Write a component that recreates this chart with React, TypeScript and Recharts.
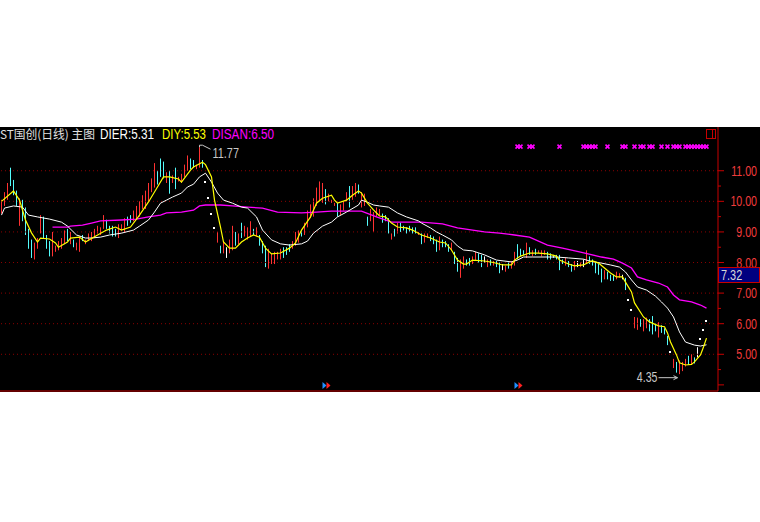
import React from 'react';
import { ComposedChart, Bar, Line, XAxis, YAxis, ReferenceLine, ReferenceDot } from 'recharts';

// daily candles (high / low / colour)
const HIGH = [
  10.05, 10.3, 10.6, 11.1, 10.7, 10.35, 10.1, 10.05, 9.8, 9.1,
  8.75, 8.65, 8.8, 9.55, 9.5, 8.9, 8.7, 9.0, 8.55, 8.7,
  8.8, 9.05, 9.1, 9.0, 8.75, 8.65, 8.85, 8.9, 8.75, 8.95,
  9.0, 9.1, 9.2, 9.15, 9.55, 9.4, 9.2, 9.2, 9.1, 9.25,
  9.25, 9.45, 9.5, 9.55, 9.7, 9.85, 10.0, 10.2, 10.35, 10.6,
  10.75, 11.25, 11.0, 11.4, 11.3, 10.95, 11.0, 10.85, 11.1, 10.8,
  10.9, 11.2, 11.5, 11.4, 11.35, 11.2, 11.77, 11.35, 10.63, 10.1,
  9.6, 9.12, 9.0, 8.55, 8.7, 8.5, 8.75, 9.2, 9.0, 8.95,
  9.3, 9.2, 9.15, 9.35, 9.1, 9.15, 8.9, 8.7, 8.55, 8.45,
  8.3, 8.35, 8.35, 8.45, 8.5, 8.5, 8.6, 8.7, 9.0, 9.05,
  9.05, 9.3, 9.7, 9.9, 10.1, 10.45, 10.65, 10.6, 10.4, 10.25,
  10.05, 9.95, 9.95, 9.9, 10.0, 10.3, 10.5, 10.5, 10.6, 10.55,
  10.3, 10.25, 9.5, 9.75, 9.65, 9.8, 9.75, 9.6, 9.55, 9.45,
  8.95, 9.1, 9.3, 9.3, 9.2, 9.15, 9.2, 9.15, 9.15, 9.0,
  8.95, 8.95, 8.95, 8.9, 8.85, 8.75, 8.85, 8.75, 8.7, 8.6,
  8.65, 8.35, 8.15, 8.1, 8.2, 8.1, 8.15, 8.2, 8.35, 8.3,
  8.25, 8.2, 8.1, 8.1, 8.05, 8.05, 8.0, 7.95, 7.9, 8.0,
  8.05, 8.35, 8.6, 8.45, 8.4, 8.65, 8.5, 8.4, 8.45, 8.4,
  8.4, 8.4, 8.35, 8.3, 8.25, 8.25, 8.25, 8.1, 8.15, 8.05,
  7.95, 8.05, 8.05, 8.0, 8.1, 8.4, 8.2, 8.1, 8.0, 7.95,
  7.8, 7.75, 7.7, 7.6, 7.6, 7.7, 7.65, 7.6, 7.5, 6.78,
  6.45, 6.22, 6.2, 6.15, 6.15, 6.2, 6.15, 6.25, 6.0, 6.05,
  5.95, 5.85, 5.6, 5.08, 4.85, 4.75, 4.8, 4.75, 4.85, 4.95,
  5.0, 4.9, 5.23, 5.5, 5.79, 6.08,
];

const LOW = [
  9.6, 9.85, 10.05, 10.5, 10.2, 9.85, 9.2, 9.35, 8.9, 8.45,
  8.15, 8.1, 8.45, 8.95, 8.8, 8.45, 8.2, 8.2, 8.35, 8.4,
  8.45, 8.6, 8.7, 8.6, 8.5, 8.4, 8.35, 8.7, 8.6, 8.7,
  8.7, 8.8, 8.95, 8.9, 9.1, 9.1, 8.95, 8.85, 8.85, 8.8,
  9.05, 9.0, 9.2, 9.3, 9.35, 9.4, 9.5, 9.75, 9.75, 10.0,
  10.3, 10.45, 10.55, 10.8, 10.75, 10.6, 10.25, 10.6, 10.4, 10.65,
  10.6, 10.8, 11.0, 11.05, 11.1, 11.05, 11.1, 11.1, 10.63, 10.1,
  9.6, 9.12, 8.65, 8.3, 8.3, 8.15, 8.3, 8.4, 8.55, 8.6,
  8.8, 8.85, 8.75, 8.85, 8.9, 8.85, 8.55, 8.3, 7.85, 7.8,
  7.95, 7.95, 8.1, 8.1, 8.15, 8.25, 8.35, 8.45, 8.55, 8.65,
  8.85, 8.9, 9.15, 9.45, 9.5, 9.85, 10.0, 9.95, 9.9, 10.0,
  9.95, 9.85, 9.5, 9.55, 9.7, 10.0, 9.8, 10.05, 10.15, 10.25,
  9.8, 9.85, 9.2, 9.35, 9.0, 9.5, 9.55, 9.3, 9.35, 8.95,
  8.75, 8.85, 8.95, 9.0, 9.05, 8.95, 9.0, 8.95, 8.95, 8.9,
  8.6, 8.65, 8.8, 8.7, 8.6, 8.35, 8.4, 8.5, 8.5, 8.35,
  8.4, 7.95, 7.7, 7.5, 7.8, 7.9, 7.9, 7.95, 8.05, 8.0,
  7.85, 8.0, 7.85, 7.9, 7.9, 7.85, 7.65, 7.75, 7.7, 7.8,
  7.8, 7.9, 8.1, 8.2, 8.25, 8.15, 8.25, 8.2, 8.25, 8.3,
  8.2, 8.25, 8.1, 8.1, 8.15, 8.1, 7.75, 7.95, 7.9, 7.85,
  7.7, 7.75, 7.85, 7.85, 7.85, 7.95, 7.95, 7.9, 7.65, 7.6,
  7.35, 7.45, 7.45, 7.4, 7.4, 7.45, 7.5, 7.45, 7.1, 6.78,
  6.45, 5.85, 5.8, 5.9, 5.75, 5.85, 5.75, 5.65, 5.75, 5.55,
  5.7, 5.65, 5.3, 5.08, 4.55, 4.4, 4.35, 4.45, 4.6, 4.65,
  4.65, 4.7, 4.9, 5.5, 5.79, 6.08,
];

// r = up, c = down, w = flat
const DIR =
  'rrrcccrccc' + 'crrrcccrrr' + 'rrcrcrrcrr' + 'rrrrrccccr' +
  'rrccrrrrrr' + 'rrcccrcrcr' + 'rrrccrrcww' + 'wwrcrwrrcr' +
  'crrrcrcccr' + 'rrrrcccrrr' + 'crrrrrrrcr' + 'rrcrrrcrrc' +
  'rrcrrrrccc' + 'rcrccccccr' + 'crrcccrccc' + 'rccrrccrrc' +
  'cwrcrccwrc' + 'rrcccrcrcr' + 'rrccccccrc' + 'crwrwrcccc' +
  'crcccrrwcw' + 'wrrcrrcccr' + 'cccwrcrrrc' + 'rcwwww';

// indicator lines: [day index, value]
const DIY_PTS: [number, number][] = [
  [0, 10.0], [4, 10.34], [6, 10.04], [8, 9.39], [10, 8.97], [12, 8.67], [13, 8.8], [16, 8.77],
  [18, 8.64], [19, 8.5], [22, 8.67], [23, 8.8], [26, 8.83], [28, 8.67], [31, 8.84], [35, 9.06],
  [38, 9.16], [40, 9.06], [43, 9.16], [46, 9.55], [49, 9.98], [52, 10.47], [54, 10.8], [56, 10.8],
  [59, 10.73], [60, 10.63], [63, 11.02], [64, 11.12], [67, 11.28], [68, 11.2], [70, 10.8], [71, 10.04],
  [73, 9.16], [74, 8.67], [76, 8.47], [78, 8.47], [80, 8.67], [82, 8.8], [84, 8.9], [86, 8.83],
  [88, 8.47], [90, 8.28], [93, 8.31], [96, 8.47], [98, 8.64], [100, 9.06], [103, 9.49], [105, 9.94],
  [107, 10.1], [110, 10.2], [111, 10.04], [112, 9.94], [115, 10.04], [117, 10.2], [119, 10.34], [120, 10.27],
  [122, 9.94], [124, 9.72], [126, 9.52], [128, 9.49], [130, 9.29], [132, 9.16], [135, 9.13], [137, 9.06],
  [140, 8.9], [143, 8.8], [146, 8.67], [148, 8.64], [150, 8.41], [152, 8.08], [154, 7.95], [155, 7.95],
  [157, 8.08], [161, 8.05], [164, 8.0], [167, 7.92], [170, 7.92], [171, 8.08], [173, 8.21], [176, 8.31],
  [179, 8.31], [182, 8.28], [185, 8.21], [186, 8.08], [189, 7.95], [191, 7.89], [194, 7.92], [196, 8.02],
  [197, 8.05], [199, 7.98], [201, 7.82], [203, 7.66], [205, 7.53], [207, 7.53], [208, 7.36], [210, 7.04],
  [211, 6.68], [214, 6.22], [216, 6.06], [219, 5.93], [221, 5.9], [222, 5.7], [223, 5.4], [225, 4.98],
  [226, 4.72], [228, 4.65], [230, 4.67], [231, 4.75], [233, 4.98], [234, 5.24], [235, 5.53],
];

const DIER_PTS: [number, number][] = [
  [0, 9.55], [1, 9.78], [4, 9.85], [7, 9.81], [9, 9.55], [12, 9.49], [16, 9.42], [20, 9.32],
  [22, 9.19], [25, 8.9], [28, 8.8], [30, 8.8], [33, 8.83], [36, 8.9], [40, 8.96], [44, 9.06],
  [46, 9.19], [49, 9.39], [51, 9.65], [53, 9.94], [55, 10.04], [57, 10.14], [60, 10.27], [62, 10.47],
  [64, 10.56], [66, 10.8], [68, 10.92], [70, 10.63], [72, 10.27], [74, 10.04], [77, 9.94], [80, 9.81],
  [82, 9.78], [85, 9.49], [87, 9.06], [90, 8.74], [93, 8.61], [96, 8.57], [100, 8.61], [102, 8.7],
  [104, 8.96], [107, 9.19], [110, 9.32], [112, 9.49], [115, 9.65], [119, 9.88], [120, 10.04], [122, 9.97],
  [124, 9.88], [126, 9.85], [129, 9.81], [132, 9.62], [135, 9.49], [139, 9.36], [140, 9.29], [143, 9.13],
  [145, 9.0], [147, 8.9], [150, 8.74], [152, 8.54], [154, 8.41], [157, 8.38], [161, 8.25], [165, 8.08],
  [170, 8.02], [172, 8.08], [174, 8.18], [177, 8.18], [185, 8.18], [189, 8.15], [194, 8.11], [196, 8.05],
  [200, 7.98], [203, 7.92], [206, 7.85], [208, 7.69], [210, 7.43], [212, 7.2], [215, 7.1], [218, 6.9],
  [220, 6.71], [222, 6.51], [224, 6.22], [226, 5.73], [228, 5.4], [231, 5.3], [233, 5.27], [235, 5.31],
];

const DISAN_PTS: [number, number][] = [
  [17, 9.16], [22, 9.16], [23, 9.19], [27, 9.22], [30, 9.29], [33, 9.36], [40, 9.39], [45, 9.42],
  [49, 9.49], [53, 9.55], [55, 9.62], [60, 9.65], [64, 9.71], [66, 9.85], [68, 9.88], [73, 9.88],
  [77, 9.85], [82, 9.81], [87, 9.78], [92, 9.65], [100, 9.62], [105, 9.65], [110, 9.68], [120, 9.68],
  [125, 9.49], [130, 9.32], [140, 9.32], [147, 9.26], [152, 9.13], [161, 9.0], [166, 8.96], [171, 8.9],
  [176, 8.83], [182, 8.57], [187, 8.47], [193, 8.34], [200, 8.18], [204, 8.11], [207, 7.98], [210, 7.82],
  [212, 7.53], [215, 7.43], [219, 7.33], [222, 7.2], [224, 6.94], [226, 6.78], [230, 6.71], [233, 6.61],
  [235, 6.51],
];

const SIGNALS = [
  172, 173, 176, 177, 186, 194, 195, 196, 197, 198, 202, 207, 208, 211, 213, 214,
  216, 217, 220, 222, 224, 225, 226, 228, 229, 230, 231, 232, 233, 234, 235,
];
const ARROW_DAYS = [107, 171];

const GRID = [5, 6, 7, 8, 9, 10, 11];
const TICKS = [4, 4.5, 5, 5.5, 6, 6.5, 7, 7.5, 8, 8.5, 9, 9.5, 10, 10.5, 11];

const RED = '#ff3232';
const CYAN = '#54fcfc';
const AXIS_RED = '#c80000';
const GRID_RED = '#8c0000';
const LABEL_GRAY = '#c8c8c8';
const COLORS: Record<string, string> = { r: RED, c: CYAN, w: '#ffffff' };
const FONT = 'Arial, "Liberation Sans", sans-serif';
const SIG_LEVEL = 11.79;
const ARROW_LEVEL = 3.98;

const diyMap = new Map(DIY_PTS);
const dierMap = new Map(DIER_PTS);
const disanMap = new Map(DISAN_PTS);

const rows = HIGH.map((h, i) => ({
  i,
  range: [LOW[i], h],
  dir: DIR[i],
  diy: diyMap.get(i) ?? null,
  dier: dierMap.get(i) ?? null,
  disan: disanMap.get(i) ?? null,
}));

const maxIdx = HIGH.indexOf(Math.max(...HIGH));
const minIdx = LOW.indexOf(Math.min(...LOW));

const Candle = (props: any) => {
  const { x, y, width, height, payload } = props;
  if (x == null || y == null) return <g />;
  const cx = Math.round(x + width / 2);
  const top = Math.min(y, y + height);
  const h = Math.abs(height);
  const col = COLORS[payload.dir] || '#fff';
  if (payload.range[0] === payload.range[1]) {
    return <rect x={cx - 1} y={Math.round(top) - 1} width={2} height={2} fill="#ffffff" />;
  }
  return <rect x={cx} y={top} width={1} height={Math.max(h, 1)} fill={col} />;
};

const AxisTick = (props: any) => {
  const { x, y, payload } = props;
  const v = payload.value;
  const major = Number.isInteger(v);
  return (
    <g>
      <line x1={x} x2={x + (major ? 6 : 3)} y1={y} y2={y} stroke={AXIS_RED} />
      {major && v >= 5 && (
        <text
          transform={`translate(${x + 39},${y + 5}) scale(0.76,1)`}
          textAnchor="end"
          fill="#f03c3c"
          fontSize={14}
          fontFamily={FONT}
        >
          {v.toFixed(2)}
        </text>
      )}
    </g>
  );
};

const XMark = ({ cx, cy }: any) => (
  <g stroke="#ff00ff" strokeWidth={1.6}>
    <line x1={cx - 2} y1={cy - 2} x2={cx + 2} y2={cy + 2} />
    <line x1={cx - 2} y1={cy + 2} x2={cx + 2} y2={cy - 2} />
  </g>
);

const TriMark = ({ cx, cy }: any) => (
  <g>
    <polygon points={`${cx},${cy - 3.5} ${cx + 4},${cy} ${cx},${cy + 3.5}`} fill="#1e90ff" />
    <polygon points={`${cx + 4},${cy - 3.5} ${cx + 8},${cy} ${cx + 4},${cy + 3.5}`} fill="#ff2020" />
  </g>
);

const MaxLabel = ({ cx, cy }: any) => (
  <g>
    <polyline
      points={`${cx},${cy} ${cx},${cy - 2} ${cx + 3},${cy - 2} ${cx + 11},${cy + 2}`}
      fill="none"
      stroke={LABEL_GRAY}
    />
    <text transform={`translate(${cx + 13},${cy + 11}) scale(0.78,1)`} fill={LABEL_GRAY}
      fontSize={14} fontFamily={FONT}>
      {HIGH[maxIdx].toFixed(2)}
    </text>
  </g>
);

const MinLabel = ({ cx, cy }: any) => (
  <g>
    <text transform={`translate(${cx - 22},${cy + 8}) scale(0.76,1)`} textAnchor="end"
      fill={LABEL_GRAY} fontSize={14} fontFamily={FONT}>
      {LOW[minIdx].toFixed(2)}
    </text>
    <line x1={cx - 21} x2={cx - 2} y1={cy + 3.5} y2={cy + 3.5} stroke={LABEL_GRAY} />
    <polyline points={`${cx - 6},${cy + 1.5} ${cx - 2},${cy + 3.5} ${cx - 6},${cy + 5.5}`}
      fill="none" stroke={LABEL_GRAY} />
  </g>
);

export default function App() {
  return (
    <div style={{ position: 'absolute', left: 0, top: 0, width: 760, height: 522, background: '#fff', overflow: 'hidden' }}>
      <div style={{ position: 'absolute', left: 0, top: 127, width: 760, height: 265, background: '#000' }}>
        <ComposedChart width={760} height={265} data={rows} margin={{ top: 0, right: 0, bottom: 0, left: 0 }}>
          <XAxis
            dataKey="i"
            type="category"
            height={1}
            tick={false}
            tickLine={false}
            axisLine={{ stroke: AXIS_RED }}
            padding={{ left: 0, right: 10 }}
          />
          <YAxis
            orientation="right"
            width={42}
            domain={[3.8, 12.43]}
            ticks={TICKS}
            interval={0}
            allowDataOverflow
            tickSize={0}
            tickMargin={0}
            tickLine={false}
            axisLine={{ stroke: AXIS_RED }}
            tick={<AxisTick />}
          />
          {GRID.map((g) => (
            <ReferenceLine key={g} y={g} stroke={GRID_RED} strokeDasharray="1 3" />
          ))}
          <Bar dataKey="range" shape={(p: any) => <Candle {...p} />} isAnimationActive={false} />
          <Line type="linear" dataKey="disan" stroke="#ff00ff" strokeWidth={1.3} dot={false} connectNulls isAnimationActive={false} />
          <Line type="linear" dataKey="dier" stroke="#ffffff" strokeWidth={1} dot={false} connectNulls isAnimationActive={false} />
          <Line type="linear" dataKey="diy" stroke="#ffff00" strokeWidth={1.2} dot={false} connectNulls isAnimationActive={false} />
          {SIGNALS.map((s) => (
            <ReferenceDot key={'s' + s} x={s} y={SIG_LEVEL} r={0} shape={(p: any) => <XMark {...p} />} />
          ))}
          {ARROW_DAYS.map((s) => (
            <ReferenceDot key={'a' + s} x={s} y={ARROW_LEVEL} r={0} shape={(p: any) => <TriMark {...p} />} />
          ))}
          <ReferenceDot x={maxIdx} y={HIGH[maxIdx]} r={0} shape={(p: any) => <MaxLabel {...p} />} />
          <ReferenceDot x={minIdx} y={LOW[minIdx]} r={0} shape={(p: any) => <MinLabel {...p} />} />
        </ComposedChart>
      </div>
      <svg width={760} height={522} style={{ position: 'absolute', left: 0, top: 0, pointerEvents: 'none' }}>
        <g fontFamily={'"Noto Sans CJK SC", Arial, sans-serif'} fontSize={12}>
          <text x={0} y={139} fill="#e0e0e0" textLength={95} lengthAdjust="spacingAndGlyphs">ST国创(日线) 主图</text>
        </g>
        <g fontFamily={FONT} fontSize={14}>
          <text x={100} y={139} fill="#ffffff" textLength={54} lengthAdjust="spacingAndGlyphs">DIER:5.31</text>
          <text x={162} y={139} fill="#ffff00" textLength={44} lengthAdjust="spacingAndGlyphs">DIY:5.53</text>
          <text x={212} y={139} fill="#ff00ff" textLength={62} lengthAdjust="spacingAndGlyphs">DISAN:6.50</text>
        </g>
        <rect x={706.5} y={129.5} width={9} height={9} fill="none" stroke={AXIS_RED} />
        <line x1={712.5} x2={712.5} y1={129.5} y2={138.5} stroke={AXIS_RED} />
        <rect x={718.5} y={267.5} width={41} height={15} fill="#000080" stroke={AXIS_RED} />
        <text transform="translate(721,280) scale(0.78,1)" fill="#d8d8d8" fontSize={14} fontFamily={FONT}>7.32</text>
      </svg>
    </div>
  );
}
